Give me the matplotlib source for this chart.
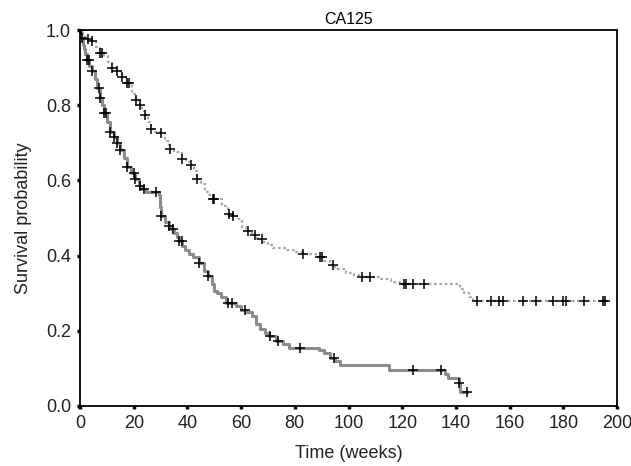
import numpy as np
import matplotlib
matplotlib.use("Agg")
import matplotlib.pyplot as plt

plt.rcParams['font.family'] = ['Liberation Sans', 'DejaVu Sans']

# lower curve (black marks): step times (weeks) and survival after each step
low_t = [0, 0.5, 1, 1.5, 2, 2.6, 3.5, 4.5, 5.5, 6.5, 7.5, 8.2, 9, 10, 11.2, 12.5,
         13.8, 15, 16.3, 17.6, 19, 20.6, 22, 23.2, 24.5, 29.3, 29.8, 30.3, 31.5,
         33, 34, 35, 36, 37, 38, 39, 40.5, 42, 44.5, 46, 47.5, 49, 50, 51, 52.5,
         54.5, 58, 60, 62, 64, 65.7, 67, 69, 70.5, 73, 75.5, 78, 89, 91, 93, 95,
         97, 115, 136, 137, 141, 141.7, 144]
low_s = [1.0, 0.98, 0.96, 0.95, 0.935, 0.92, 0.905, 0.89, 0.87, 0.845, 0.82, 0.80,
         0.78, 0.755, 0.73, 0.715, 0.70, 0.68, 0.66, 0.636, 0.62, 0.604, 0.585,
         0.578, 0.57, 0.56, 0.53, 0.505, 0.49, 0.48, 0.47, 0.46, 0.45, 0.44, 0.425,
         0.415, 0.405, 0.395, 0.38, 0.36, 0.345, 0.325, 0.305, 0.30, 0.29, 0.275,
         0.265, 0.255, 0.25, 0.24, 0.217, 0.205, 0.195, 0.185, 0.172, 0.165,
         0.155, 0.15, 0.14, 0.128, 0.12, 0.11, 0.096, 0.085, 0.075, 0.06, 0.037,
         0.037]
low_cens = [0.3, 0.8, 2.6, 3.4, 4.5, 7, 7.5, 9, 9.7, 11.2, 12.5, 13.8, 15, 17.6,
            20, 20.6, 22.2, 23.7, 28.4, 30.3, 33.2, 34.5, 37, 37.8, 44.5, 47.5,
            55, 56.5, 61.3, 70.7, 73.7, 82, 94.6, 124, 134.6, 141.3, 144]

# upper curve (grey line)
up_t = [0, 1, 2, 3, 4.5, 6, 7.5, 9, 10.5, 12, 13.8, 15.5, 17.6, 19.4, 21, 22.4,
        23.2, 24.3, 25.4, 26.5, 28, 30.3, 31.5, 33.3, 35, 37.8, 39.5, 41.5, 42.5,
        43.7, 45, 46.4, 48, 49.4, 53, 55, 56.5, 58.3, 60.5, 62, 64, 66, 68, 70,
        72, 77, 80, 83, 88, 91, 93, 95, 99, 102, 104, 112, 116, 119, 141.5, 143,
        145, 146.5, 196.5]
up_s = [1.0, 0.99, 0.98, 0.975, 0.97, 0.955, 0.94, 0.93, 0.915, 0.90, 0.89, 0.875,
        0.858, 0.83, 0.815, 0.80, 0.785, 0.773, 0.755, 0.738, 0.73, 0.725, 0.705,
        0.684, 0.675, 0.658, 0.65, 0.64, 0.625, 0.604, 0.59, 0.57, 0.56, 0.551,
        0.532, 0.51, 0.505, 0.497, 0.475, 0.465, 0.455, 0.445, 0.436, 0.428, 0.42,
        0.415, 0.41, 0.405, 0.396, 0.385, 0.375, 0.365, 0.355, 0.348, 0.342,
        0.337, 0.33, 0.324, 0.31, 0.30, 0.29, 0.278, 0.278]
up_cens = [0.5, 3, 4.5, 7.5, 8.2, 12, 13.8, 15.7, 17.6, 18.3, 21, 22.4, 24.3,
           26.5, 30.3, 33.5, 37.8, 41.5, 43.7, 49.4, 50, 55.5, 57, 62.4, 65, 67.7,
           83, 89.4, 90, 94.2, 105, 108, 120.5, 121.5, 124, 128, 148, 153, 156,
           157.4, 165, 170, 176, 180, 181, 187.7, 194.8, 195.5]


def step_value(times, surv, c):
    i = np.searchsorted(times, c, side='right') - 1
    return np.array(surv)[i]


fig = plt.figure(figsize=(6.31, 4.66), dpi=100)
ax = fig.add_axes([0.1268, 0.1288, 0.851, 0.8068])

ax.step(up_t, up_s, where='post', color='#a8a8a8', lw=1.6,
        linestyle=(0, (1.2, 1.2)), zorder=2)
ax.step(low_t, low_s, where='post', color='#8c8c8c', lw=2.2, zorder=2)

ax.plot(up_cens, step_value(up_t, up_s, up_cens), '+', color='black',
        ms=7.5, mew=1.1, zorder=3)
ax.plot(low_cens, step_value(low_t, low_s, low_cens), '+', color='black',
        ms=7.5, mew=1.1, zorder=3)

ax.set_xlim(0, 200)
ax.set_ylim(0, 1.0)
ax.set_xticks(np.arange(0, 201, 20))
ax.set_yticks(np.arange(0, 1.01, 0.2))
ax.set_yticklabels(['0.0', '0.2', '0.4', '0.6', '0.8', '1.0'])
ax.tick_params(direction='out', length=2.5, width=2.5, labelsize=13, pad=4,
               labelcolor='#222222')
for sp in ax.spines.values():
    sp.set_linewidth(1.3)

ax.set_title('CA125', fontsize=11.5, pad=4)
ax.set_xlabel('Time (weeks)', fontsize=13, labelpad=9, color='#222222')
ax.set_ylabel('Survival probability', fontsize=13, labelpad=10, color='#222222')

fig.savefig('out.png', dpi=100)
